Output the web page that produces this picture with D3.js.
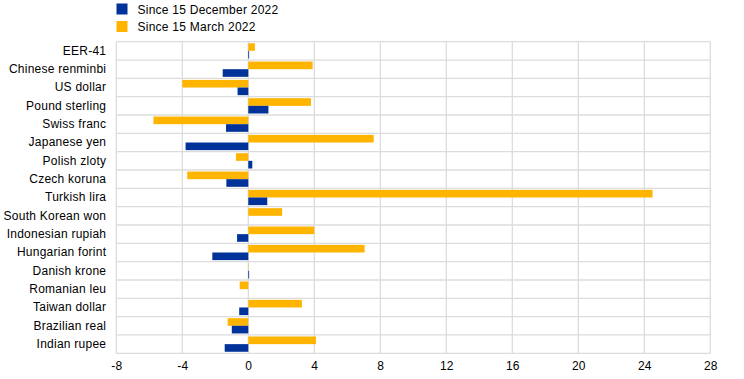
<!DOCTYPE html>
<html><head><meta charset="utf-8">
<script src="https://cdn.jsdelivr.net/npm/d3@7"></script>
<style>body{margin:0;background:#fff}svg{display:block;font-family:"Liberation Sans",Arial,sans-serif}text{letter-spacing:0.25px}</style>
</head><body><svg id="c" width="744" height="379"></svg>
<script>
const categories = ["EER-41","Chinese renminbi","US dollar","Pound sterling","Swiss franc","Japanese yen","Polish zloty","Czech koruna","Turkish lira","South Korean won","Indonesian rupiah","Hungarian forint","Danish krone","Romanian leu","Taiwan dollar","Brazilian real","Indian rupee"];
const sinceMarch2022 = [0.4,3.9,-4.0,3.8,-5.75,7.6,-0.75,-3.7,24.5,2.05,4.0,7.05,0.02,-0.52,3.25,-1.25,4.1];
const sinceDec2022 = [0.05,-1.55,-0.65,1.22,-1.35,-3.8,0.24,-1.33,1.15,0.0,-0.68,-2.18,0.05,0.0,-0.55,-1.0,-1.43];
const seriesNames = ["Since 15 December 2022","Since 15 March 2022"];
const xTicks = [-8,-4,0,4,8,12,16,20,24,28];
const colors = {dec:"#003299", mar:"#ffb400"};

const svg = d3.select("#c");
const m = {l:116.3, r:710.3, t:41.7, b:353.3};
const x = d3.scaleLinear().domain([-8,28]).range([m.l,m.r]);
const y = d3.scaleBand().domain(categories).range([m.t,m.b]).paddingInner(0).paddingOuter(0);
const inner = d3.scaleBand().domain(["mar","dec"]).range([0,y.bandwidth()]).paddingOuter(0.2).paddingInner(0);

const grid = svg.append("g").attr("stroke","#dcdcdc").attr("stroke-width",1.3);
xTicks.forEach(t=>grid.append("line").attr("x1",x(t)).attr("x2",x(t)).attr("y1",m.t).attr("y2",m.b));
categories.forEach(c=>grid.append("line").attr("x1",m.l).attr("x2",m.r).attr("y1",y(c)).attr("y2",y(c)));
grid.append("line").attr("x1",m.l).attr("x2",m.r).attr("y1",m.b).attr("y2",m.b);

const rows = categories.map((c,i)=>({c, mar:sinceMarch2022[i], dec:sinceDec2022[i]}));
["mar","dec"].forEach(k=>{
  svg.append("g").selectAll("rect").data(rows).join("rect")
    .attr("x",d=>x(Math.min(0,d[k])))
    .attr("width",d=>Math.abs(x(d[k])-x(0)))
    .attr("y",d=>y(d.c)+inner(k))
    .attr("height",inner.bandwidth())
    .attr("fill",colors[k]);
});

const yAxis = svg.append("g").attr("transform",`translate(${m.l},0)`)
  .call(d3.axisLeft(y).tickSize(0).tickPadding(10));
yAxis.select(".domain").remove();
yAxis.selectAll("text").attr("font-size",12).attr("fill","#000").attr("font-family","Liberation Sans, Arial, sans-serif");

const xAxis = svg.append("g").attr("transform",`translate(0,${m.b})`)
  .call(d3.axisBottom(x).tickValues(xTicks).tickSize(0).tickPadding(8).tickFormat(d=>String(d)));
xAxis.select(".domain").remove();
xAxis.selectAll("text").attr("font-size",12).attr("fill","#000").attr("font-family","Liberation Sans, Arial, sans-serif");

const lg = svg.append("g");
[["dec",seriesNames[0]],["mar",seriesNames[1]]].forEach((s,i)=>{
  lg.append("rect").attr("x",116.5).attr("y",3.5+i*17.5).attr("width",11).attr("height",11).attr("fill",colors[s[0]]);
  lg.append("text").attr("x",137.5).attr("y",13.5+i*17.5).attr("font-size",12).attr("fill","#000").text(s[1]);
});
</script></body></html>
